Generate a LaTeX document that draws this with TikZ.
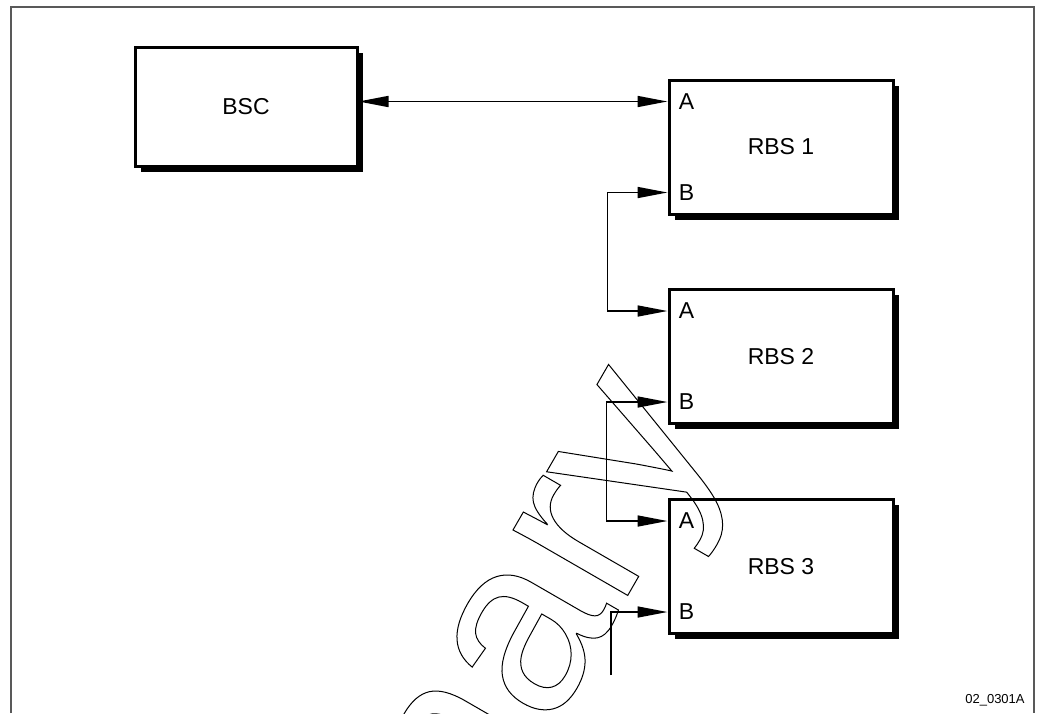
\documentclass[tikz,border=0pt]{standalone}
\usepackage{fontspec}
\setmainfont{Liberation Sans}
\usetikzlibrary{arrows.meta, calc, shadows}

\begin{document}
\begin{tikzpicture}[x=0.5pt, y=-0.5pt,
    unit/.style={draw, line width=1.5pt, fill=white, inner sep=0pt,
      font=\fontsize{11.5}{13}\selectfont,
      drop shadow={shadow xshift=2.8pt, shadow yshift=-2.8pt, fill=black, opacity=1}},
    port/.style={anchor=west, inner sep=0pt, font=\fontsize{11.5}{13}\selectfont},
    link/.style={line width=0.8pt,
      {Triangle[length=15pt, width=5.5pt]}-{Triangle[length=15pt, width=5.5pt]}},
    feed/.style={line width=0.8pt, -{Triangle[length=15pt, width=5.5pt]}}]
    \useasboundingbox (0,0) rectangle (1042,713);
    % --- Frame ---
    \draw[gray!70!black, line width=0.7pt] (11,713) -- (11,7) -- (1034,7) -- (1034,713);
    % --- Controller ---
    \node[unit, minimum width=111pt, minimum height=59.5pt] (bsc) at (246,106.5) {BSC};
    % --- Base stations ---
    \node[unit, minimum width=112pt, minimum height=67pt] (rbs1) at (781,147) {RBS 1};
    \node[unit, minimum width=112pt, minimum height=67pt] (rbs2) at (781,356.5) {RBS 2};
    \node[unit, minimum width=112pt, minimum height=67pt] (rbs3) at (781,566.5) {RBS 3};
    % --- Ports ---
    \node[port] (a1) at ($(rbs1.north west)+(11,23)$) {A};
    \node[port] (b1) at ($(rbs1.south west)+(11,-23)$) {B};
    \node[port] (a2) at ($(rbs2.north west)+(11,23)$) {A};
    \node[port] (b2) at ($(rbs2.south west)+(11,-23)$) {B};
    \node[port] (a3) at ($(rbs3.north west)+(11,23)$) {A};
    \node[port] (b3) at ($(rbs3.south west)+(11,-23)$) {B};
    % --- Links ---
    \draw[link] (bsc.east |- a1) -- (rbs1.west |- a1);
    \draw[link] (rbs1.west |- b1) -- ++(-60,0) |- (rbs2.west |- a2);
    \draw[link] (rbs2.west |- b2) -- ++(-61,0) |- (rbs3.west |- a3);
    \coordinate (tail) at (611,675);
    \draw[feed] (tail) |- (rbs3.west |- b3);
    % --- Figure number ---
    \node[anchor=east, inner sep=0pt, font=\fontsize{6.5}{7.5}\selectfont] (fignum) at (1025,700) {02\_0301A};
    % --- Watermark (outlined) ---
    \begin{scope}
      \clip (0,0) rectangle (1042,713);
      \node[anchor=base east, rotate=60, inner sep=0pt, font=\fontsize{125}{125}\selectfont]
        (mark) at (723.5,429.5)
        {\special{pdf:literal direct 1 Tr 0.5 w}Preliminary\special{pdf:literal direct 0 Tr}};
    \end{scope}
\end{tikzpicture}
\end{document}
